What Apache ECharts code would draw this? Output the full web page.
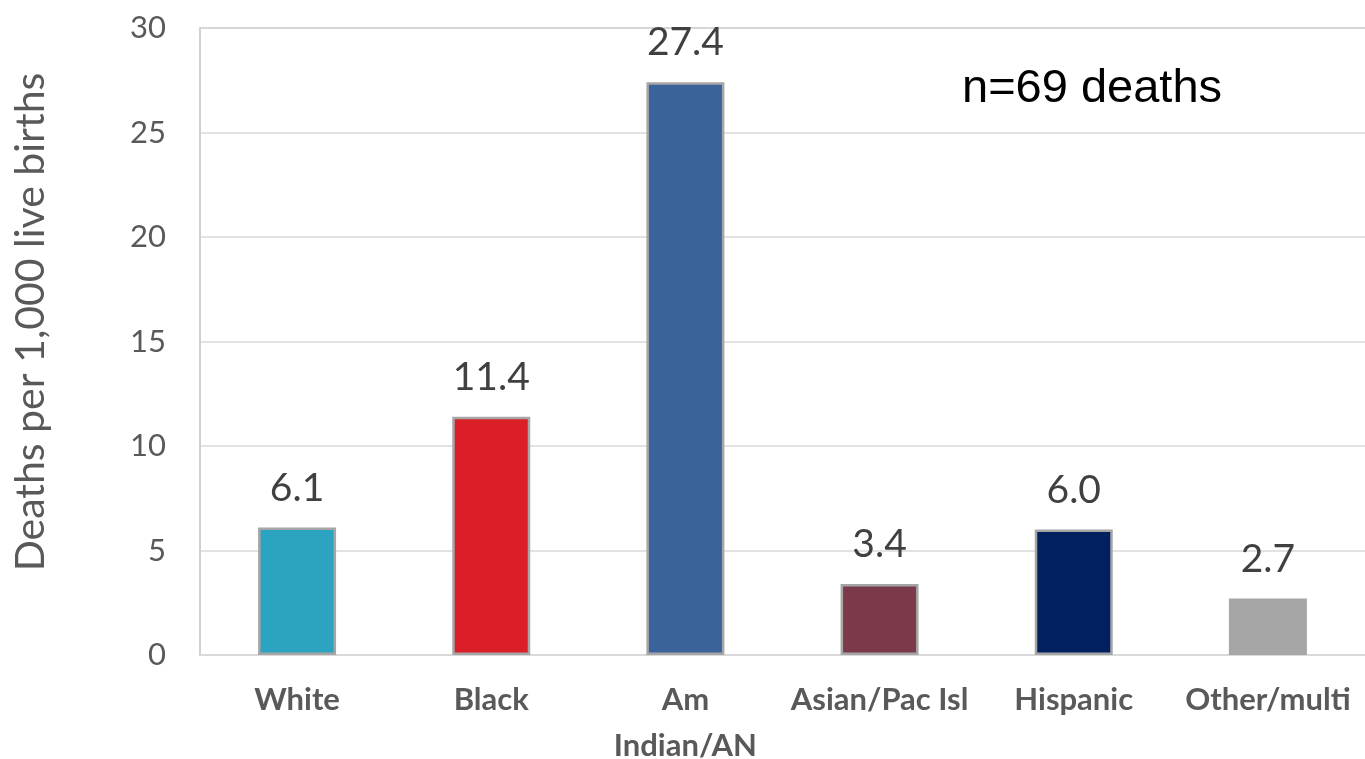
<!DOCTYPE html>
<html><head><meta charset="utf-8">
<script src="https://cdn.jsdelivr.net/npm/echarts@6/dist/echarts.min.js"></script>
<style>html,body{margin:0;padding:0;background:#fff}#c{width:1365px;height:759px}</style>
</head><body><div id="c"></div>
<script>
const categories = ['White', 'Black', 'Am\nIndian/AN', 'Asian/Pac Isl', 'Hispanic', 'Other/multi'];
const values = [6.1, 11.4, 27.4, 3.4, 6.0, 2.7];
const barColors = ['#2ca3c0', '#da1f28', '#3a639b', '#7b3a4a', '#00205f', '#a6a6a6'];
const yTitle = 'Deaths per 1,000 live births';
const note = 'n=69 deaths';

const chart = echarts.init(document.getElementById('c'));
chart.setOption({
  animation: false,
  grid: { left: 200, right: 0, top: 28, bottom: 104, containLabel: false, outerBoundsMode: 'none' },
  graphic: [{
    type: 'text', x: 962, y: 89,
    style: { text: note, font: '47px "Liberation Sans", Arial, sans-serif', fill: '#000', verticalAlign: 'middle' }
  }, {
    type: 'text', x: 31, y: 322, rotation: Math.PI / 2,
    style: { text: yTitle, font: '41px Lato, sans-serif', fill: '#595959', align: 'center', verticalAlign: 'middle' }
  }, {
    type: 'line', shape: { x1: 200, y1: 28, x2: 1365, y2: 28 },
    style: { stroke: '#d0d0d0', lineWidth: 2 }
  }],
  xAxis: {
    type: 'category', data: categories,
    axisLine: { show: true, lineStyle: { color: '#d9d9d9', width: 2 } },
    axisTick: { show: false },
    axisLabel: { color: '#595959', fontSize: 31, fontFamily: 'Lato', fontWeight: 'bold', margin: 22, lineHeight: 46, interval: 0 }
  },
  yAxis: {
    type: 'value', min: 0, max: 30, interval: 5,
    axisLine: { show: true, lineStyle: { color: '#d0d0d0', width: 2 } },
    splitLine: { lineStyle: { color: '#d9d9d9', width: 1.5 } },
    axisLabel: { color: '#595959', fontSize: 31, fontFamily: 'Lato', margin: 34 }
  },
  series: [{
    type: 'bar', barWidth: 78,
    data: values.map((v, i) => ({
      value: v,
      itemStyle: { color: barColors[i], borderColor: i === 5 ? barColors[i] : '#a6a6a6', borderWidth: 2.5 }
    })),
    label: {
      show: true, position: 'top', distance: 20,
      formatter: p => p.value.toFixed(1),
      color: '#404040', fontSize: 39, fontFamily: 'Lato'
    }
  }]
});
</script></body></html>
